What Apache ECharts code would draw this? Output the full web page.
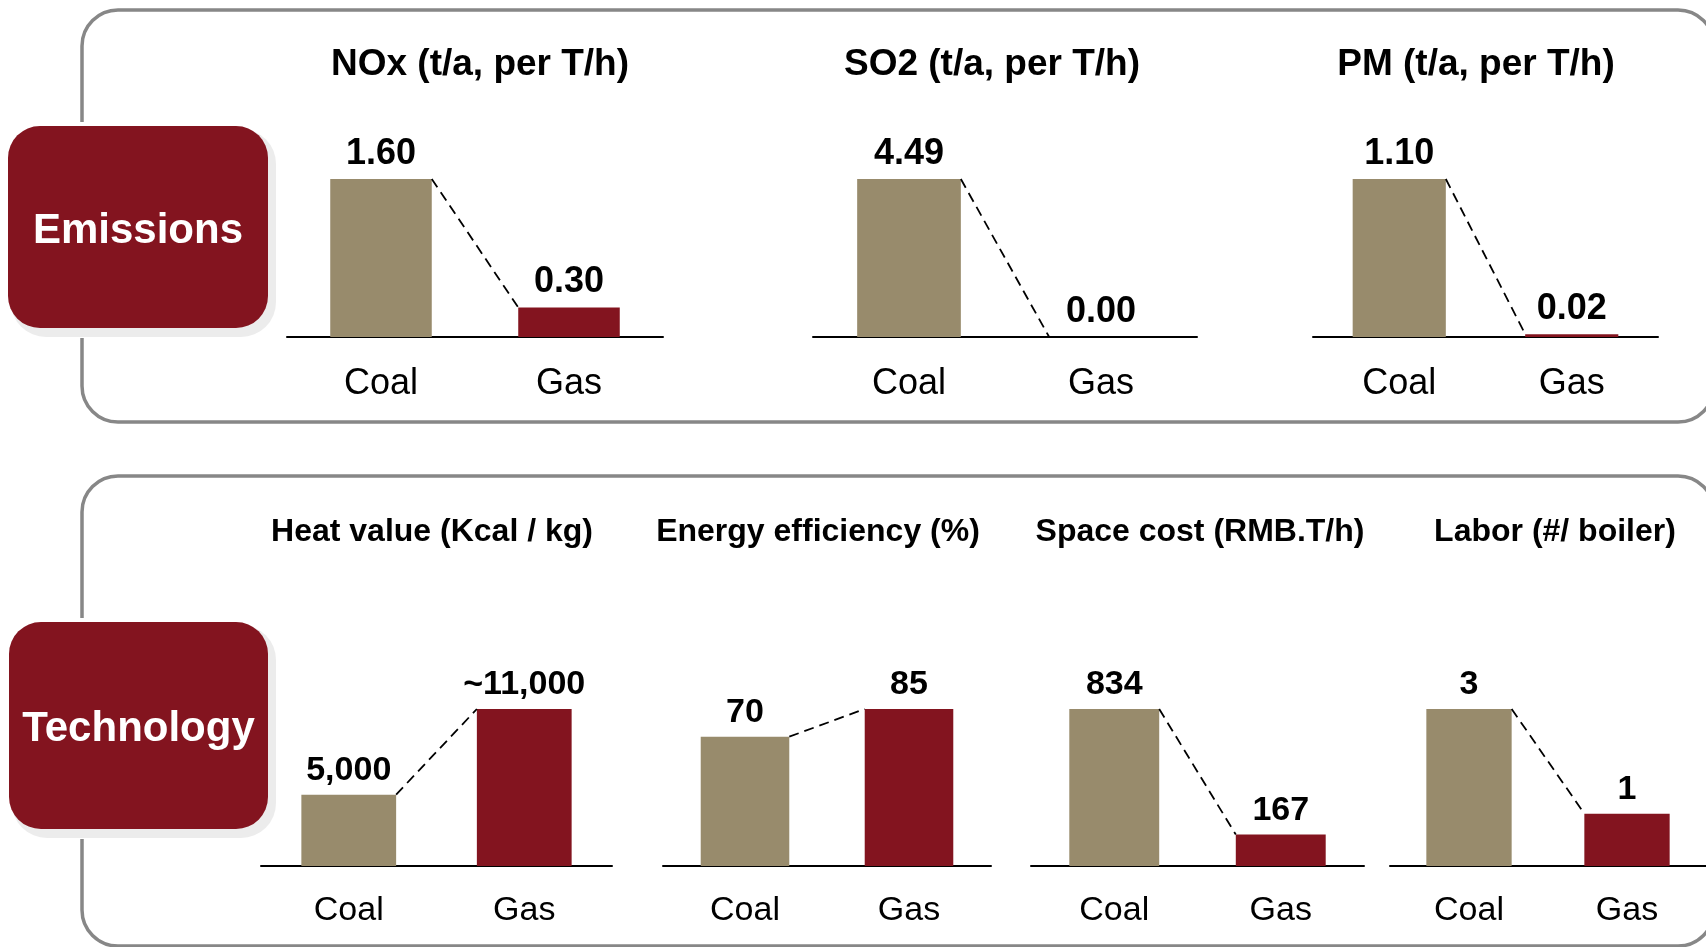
<!DOCTYPE html>
<html>
<head>
<meta charset="utf-8">
<script src="https://cdn.jsdelivr.net/npm/echarts@6/dist/echarts.min.js"></script>
<style>
  html, body { margin: 0; padding: 0; background: #ffffff; }
  #chart { width: 1706px; height: 947px; }
</style>
</head>
<body>
<div id="chart"></div>
<script>
// ---- Data ----
const categories = ['Coal', 'Gas'];

const emissionTitles = ['NOx (t/a, per T/h)', 'SO2 (t/a, per T/h)', 'PM (t/a, per T/h)'];
const noxValues = [1.60, 0.30];
const so2Values = [4.49, 0.00];
const pmValues = [1.10, 0.02];

const technologyTitles = ['Heat value (Kcal / kg)', 'Energy efficiency (%)', 'Space cost (RMB.T/h)', 'Labor (#/ boiler)'];
const heatValues = [5000, 11000];
const heatApprox = [false, true];
const efficiencyValues = [70, 85];
const spaceCostValues = [834, 167];
const laborValues = [3, 1];

const sectionNames = ['Emissions', 'Technology'];

// ---- Styling ----
const FONT = '"Liberation Sans", Arial, Helvetica, sans-serif';
const COAL_COLOR = '#988b6c';
const GAS_COLOR = '#83141f';
const BORDER_COLOR = '#878787';
const BAR_RATIO = 0.54;

function withCommas(v) {
  return String(Math.round(v)).replace(/\B(?=(\d{3})+(?!\d))/g, ',');
}

const panels = [
  { title: emissionTitles[0], values: noxValues, fmt: (v) => v.toFixed(2), row: 0 },
  { title: emissionTitles[1], values: so2Values, fmt: (v) => v.toFixed(2), row: 0 },
  { title: emissionTitles[2], values: pmValues, fmt: (v) => v.toFixed(2), row: 0 },
  { title: technologyTitles[0], values: heatValues, fmt: (v, i) => (heatApprox[i] ? '~' : '') + withCommas(v), row: 1 },
  { title: technologyTitles[1], values: efficiencyValues, fmt: (v) => withCommas(v), row: 1 },
  { title: technologyTitles[2], values: spaceCostValues, fmt: (v) => withCommas(v), row: 1 },
  { title: technologyTitles[3], values: laborValues, fmt: (v) => withCommas(v), row: 1 }
];

// Plot areas of the small charts (pixels) and where each heading sits
const layout = [
  { left: 287, width: 376, titleX: 480 },
  { left: 813, width: 384, titleX: 992 },
  { left: 1313, width: 345, titleX: 1476 },
  { left: 261, width: 351, titleX: 432 },
  { left: 663, width: 328, titleX: 818 },
  { left: 1031, width: 333, titleX: 1200 },
  { left: 1390, width: 320, titleX: 1555 }
];
const rows = [
  { top: 179, height: 158, titleY: 65, titleSize: 37, valueSize: 36, catSize: 36, catMargin: 29 },
  { top: 709, height: 157, titleY: 532, titleSize: 32, valueSize: 34, catSize: 34, catMargin: 28 }
];

const grid = [], xAxis = [], yAxis = [], series = [];

panels.forEach((p, i) => {
  const r = rows[p.row];
  const l = layout[i];
  grid.push({ left: l.left, width: l.width, top: r.top, height: r.height, containLabel: false });
  xAxis.push({
    type: 'category',
    gridIndex: i,
    data: categories,
    axisLine: { show: true, lineStyle: { color: '#000000', width: 2 } },
    axisTick: { show: false },
    axisLabel: { color: '#000000', fontSize: r.catSize, fontFamily: FONT, margin: r.catMargin }
  });
  yAxis.push({
    type: 'value',
    gridIndex: i,
    min: 0,
    max: Math.max(...p.values),
    show: false,
    splitLine: { show: false }
  });
  series.push({
    type: 'bar',
    xAxisIndex: i,
    yAxisIndex: i,
    barWidth: (BAR_RATIO * 100) + '%',
    data: p.values.map((v, k) => ({ value: v, itemStyle: { color: k === 0 ? COAL_COLOR : GAS_COLOR } })),
    label: {
      show: true,
      position: 'top',
      distance: 7,
      color: '#000000',
      fontSize: r.valueSize,
      fontWeight: 'bold',
      fontFamily: FONT,
      formatter: (prm) => p.fmt(prm.value, prm.dataIndex)
    },
    silent: true,
    animation: false
  });
  // dashed connector from the Coal bar's top-right corner to the Gas bar's top-left corner
  series.push({
    type: 'custom',
    xAxisIndex: i,
    yAxisIndex: i,
    silent: true,
    animation: false,
    z: 5,
    encode: { x: [0, 2], y: [1, 3] },
    data: [[0, p.values[0], 1, p.values[1]]],
    renderItem: (params, api) => {
      const a = api.coord([api.value(0), api.value(1)]);
      const b = api.coord([api.value(2), api.value(3)]);
      const half = api.size([1, 0])[0] * BAR_RATIO / 2;
      return {
        type: 'line',
        shape: { x1: a[0] + half, y1: a[1], x2: b[0] - half, y2: b[1] },
        style: { stroke: '#000000', lineWidth: 1.8, lineDash: [10, 6], fill: null }
      };
    }
  });
});

// ---- Frames, section badges and headings ----
const graphic = [];
const frames = [
  { x: 82, y: 10, width: 1632, height: 412 },
  { x: 82, y: 476, width: 1632, height: 470 }
];
const badges = [
  { x: 8, y: 126, width: 260, height: 202, textY: 231 },
  { x: 9, y: 622, width: 259, height: 207, textY: 729 }
];

frames.forEach((f) => {
  graphic.push({
    type: 'rect', z: 1,
    shape: { x: f.x, y: f.y, width: f.width, height: f.height, r: 36 },
    style: { fill: null, stroke: BORDER_COLOR, lineWidth: 3.5 }
  });
});

badges.forEach((b, i) => {
  // white gap in the frame around the badge
  graphic.push({
    type: 'rect', z: 2,
    shape: { x: 0, y: b.y - 4, width: b.width + 20, height: b.height + 14 },
    style: { fill: '#ffffff' }
  });
  // soft drop shadow
  graphic.push({
    type: 'rect', z: 3,
    shape: { x: b.x + 3, y: b.y + 3, width: b.width + 5, height: b.height + 6, r: 35 },
    style: { fill: '#ececec' }
  });
  graphic.push({
    type: 'rect', z: 4,
    shape: { x: b.x, y: b.y, width: b.width, height: b.height, r: 32 },
    style: { fill: GAS_COLOR }
  });
  graphic.push({
    type: 'text', z: 5,
    style: {
      text: sectionNames[i],
      x: b.x + b.width / 2,
      y: b.textY,
      textAlign: 'center', align: 'center',
      textVerticalAlign: 'middle', verticalAlign: 'middle',
      fill: '#ffffff',
      font: 'bold 42px ' + FONT
    }
  });
});

panels.forEach((p, i) => {
  const r = rows[p.row];
  graphic.push({
    type: 'text', z: 5,
    style: {
      text: p.title,
      x: layout[i].titleX,
      y: r.titleY,
      textAlign: 'center', align: 'center',
      textVerticalAlign: 'middle', verticalAlign: 'middle',
      fill: '#000000',
      font: 'bold ' + r.titleSize + 'px ' + FONT
    }
  });
});

const chart = echarts.init(document.getElementById('chart'), null, { renderer: 'canvas' });
chart.setOption({
  backgroundColor: '#ffffff',
  animation: false,
  textStyle: { fontFamily: FONT },
  grid, xAxis, yAxis, series, graphic
});
</script>
</body>
</html>
